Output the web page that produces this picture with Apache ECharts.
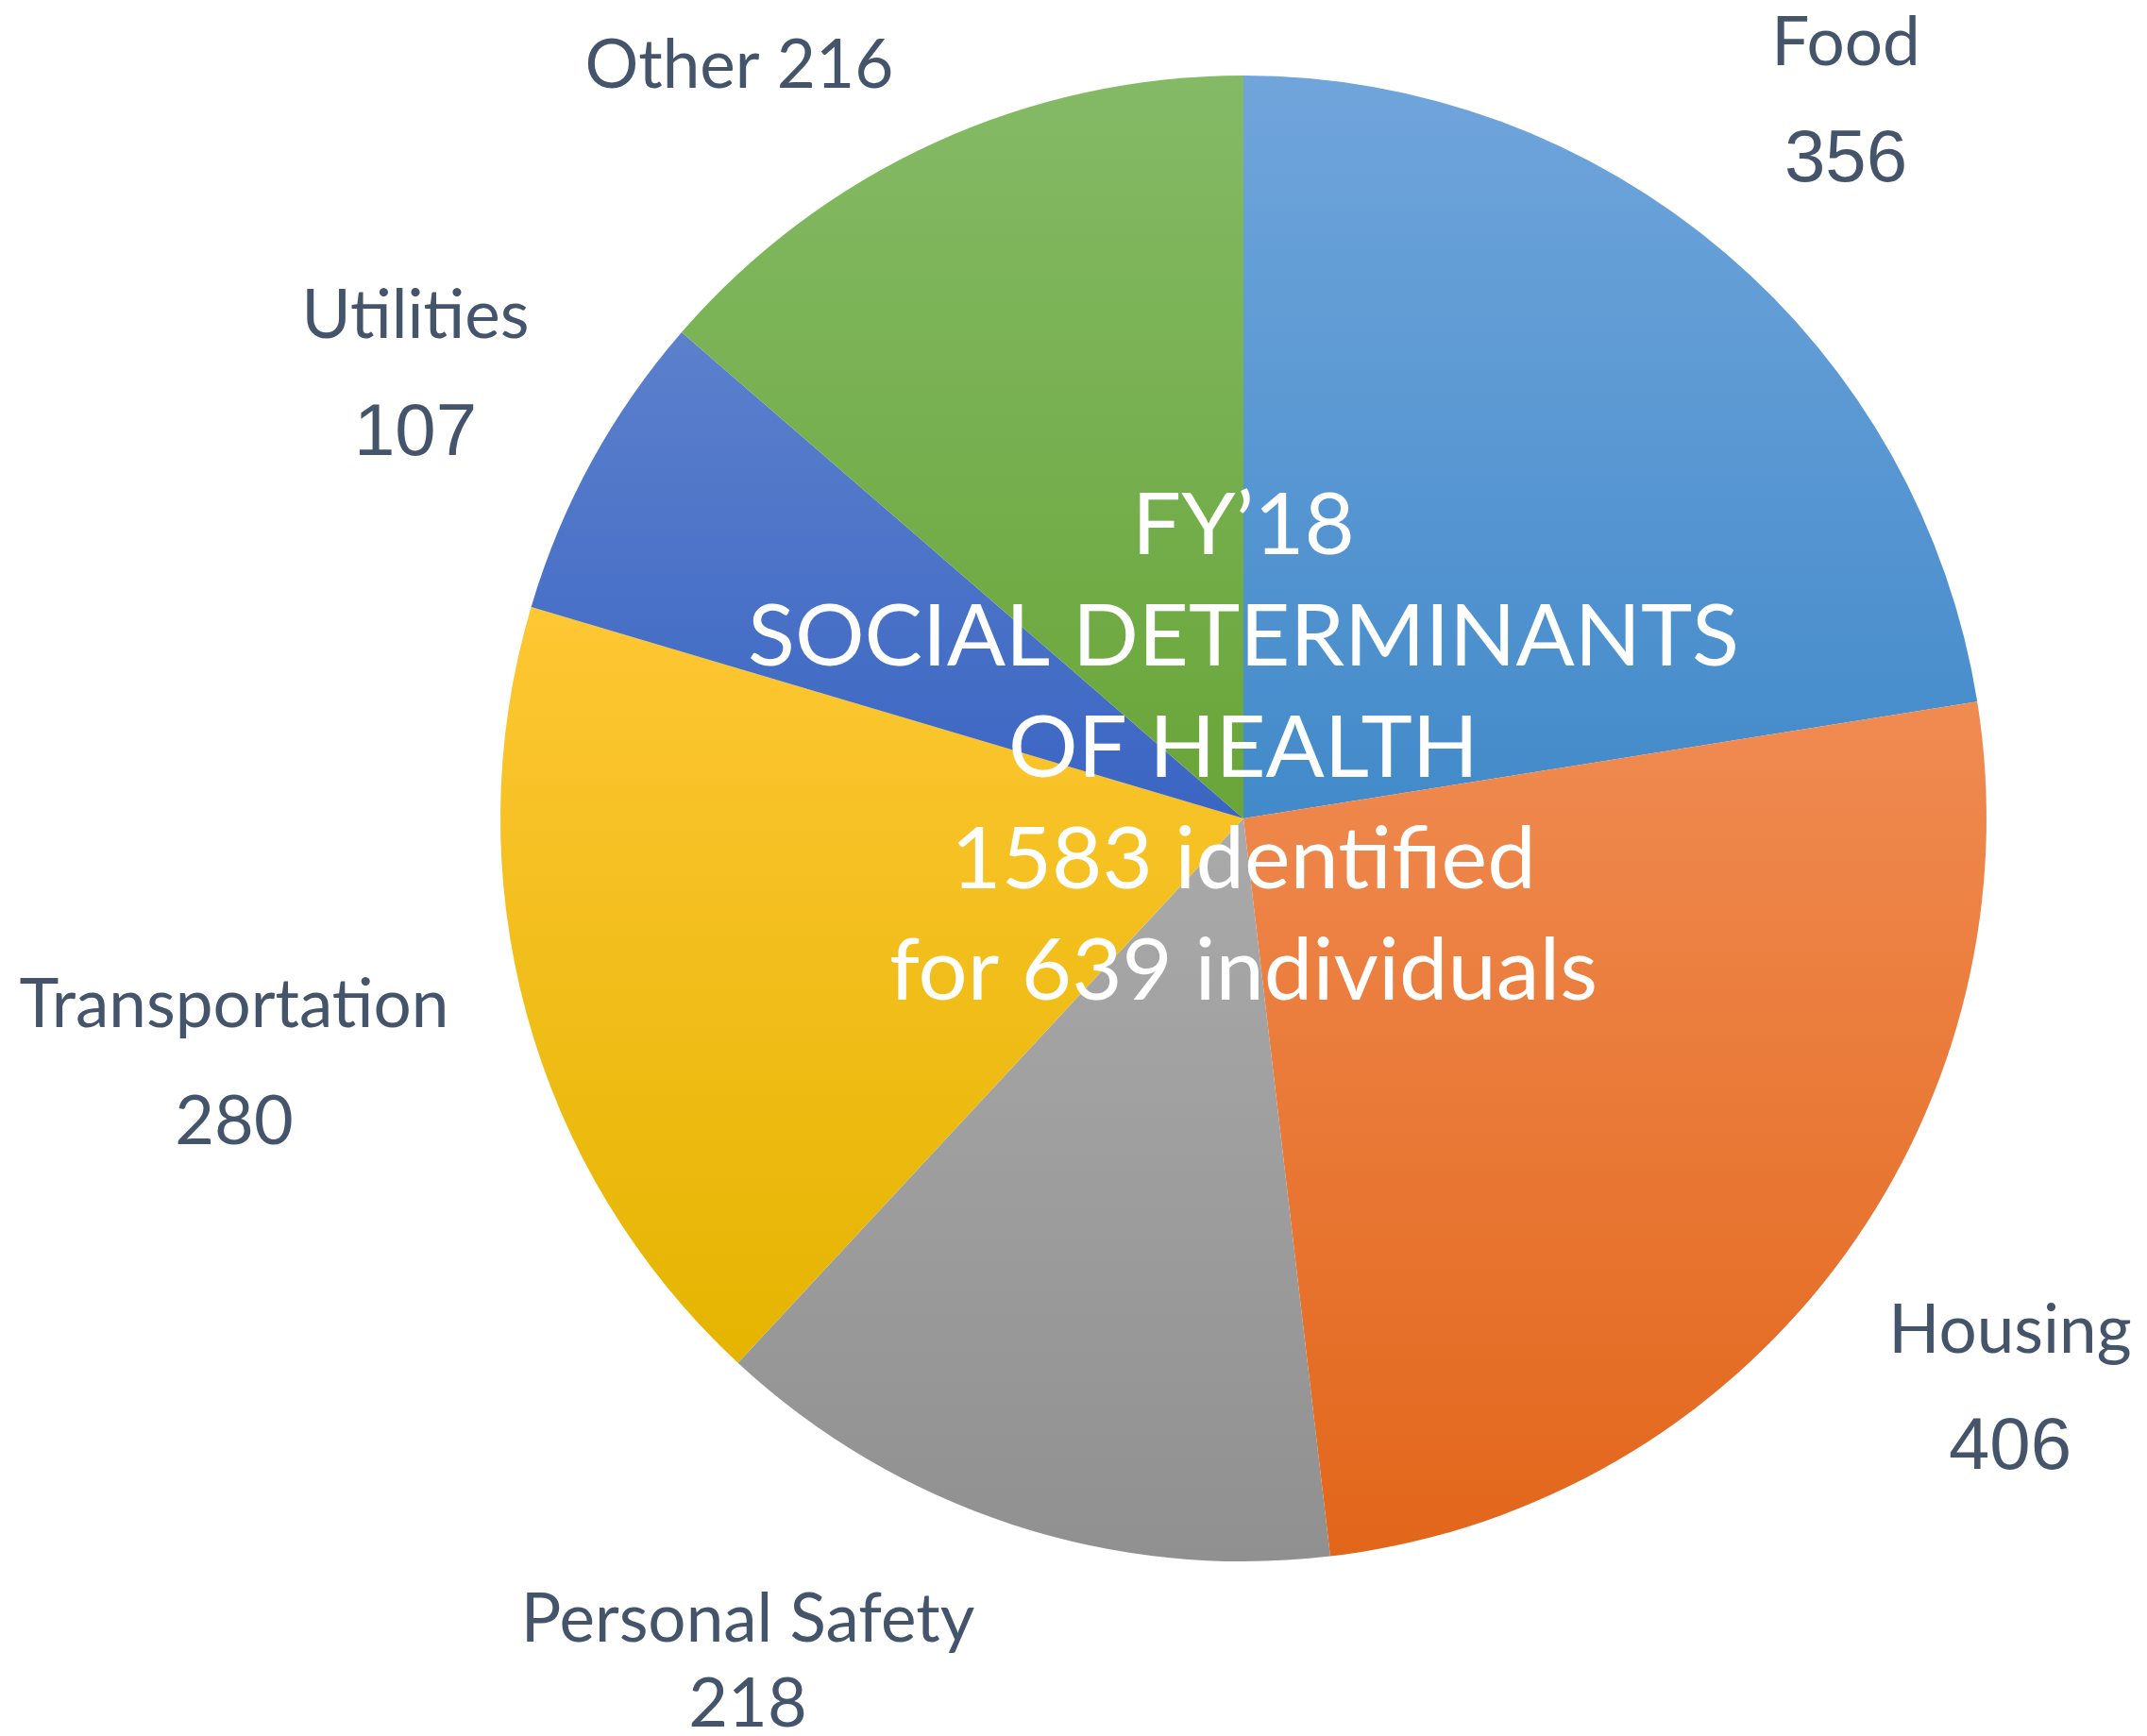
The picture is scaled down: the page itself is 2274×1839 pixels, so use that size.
<!DOCTYPE html>
<html>
<head>
<meta charset="utf-8">
<script src="https://cdn.jsdelivr.net/npm/echarts@6/dist/echarts.min.js"></script>
<style>
  html, body { margin: 0; padding: 0; background: #ffffff; }
  #chart { width: 2274px; height: 1839px; }
</style>
</head>
<body>
<div id="chart"></div>
<script>
// data
const categories = ['Food', 'Housing', 'Personal Safety', 'Transportation', 'Utilities', 'Other'];
const counts = [356, 406, 218, 280, 107, 216];
const centerLines = ['FY\u201918', 'SOCIAL DETERMINANTS', 'OF HEALTH', '1583 identified', 'for 639 individuals'];

// slice gradients, top -> bottom
const topColors = ['#70a5db', '#f08b52', '#aaaaaa', '#fec734', '#5c80cc', '#84ba66'];
const bottomColors = ['#428aca', '#e2661a', '#909090', '#e5b400', '#3a65c3', '#69a538'];

// label placement (px) and style per slice
const labelPos = [[1955, 108], [2129, 1472], [792, 1761], [248, 1127], [440, 398], [783, 70]];
const valueStyle = ['arial', 'arial', 'cal', 'cal', 'arial', 'cal'];
const lineGap = [124, 124, 90, 123, 125, 0];

const chart = echarts.init(document.getElementById('chart'));

const slate = '#44546a';
const pieData = categories.map((name, i) => ({
  name: name,
  value: counts[i],
  itemStyle: {
    color: new echarts.graphic.LinearGradient(0, 0, 0, 1, [
      { offset: 0, color: topColors[i] },
      { offset: 1, color: bottomColors[i] }
    ])
  },
  label: {
    formatter: lineGap[i] === 0
      ? '{n|' + name + ' ' + counts[i] + '}'
      : '{n|' + name + '}\n{' + valueStyle[i] + '|' + counts[i] + '}',
    rich: {
      n: { fontFamily: 'Lato', fontSize: 71, color: slate, lineHeight: lineGap[i] || 80 },
      arial: { fontFamily: 'Liberation Sans', fontSize: 78, color: slate, lineHeight: lineGap[i] },
      cal: { fontFamily: 'Lato', fontSize: 72, color: slate, lineHeight: lineGap[i] }
    }
  }
}));

const option = {
  backgroundColor: '#ffffff',
  animation: false,
  series: [{
    type: 'pie',
    center: [1317, 867],
    radius: 787,
    startAngle: 90,
    clockwise: true,
    data: pieData,
    itemStyle: { borderWidth: 0 },
    label: { show: true, position: 'outside' },
    labelLine: { show: false },
    labelLayout: function (params) {
      const p = labelPos[params.dataIndex];
      return { x: p[0], y: p[1], align: 'center', verticalAlign: 'middle', draggable: false };
    }
  }],
  graphic: [{
    type: 'text',
    x: 1317,
    y: 793,
    z: 100,
    style: {
      text: centerLines.join('\n'),
      fill: '#ffffff',
      fontFamily: 'Lato',
      fontSize: 92,
      lineHeight: 118,
      align: 'center',
      verticalAlign: 'middle'
    }
  }]
};

chart.setOption(option);
</script>
</body>
</html>
